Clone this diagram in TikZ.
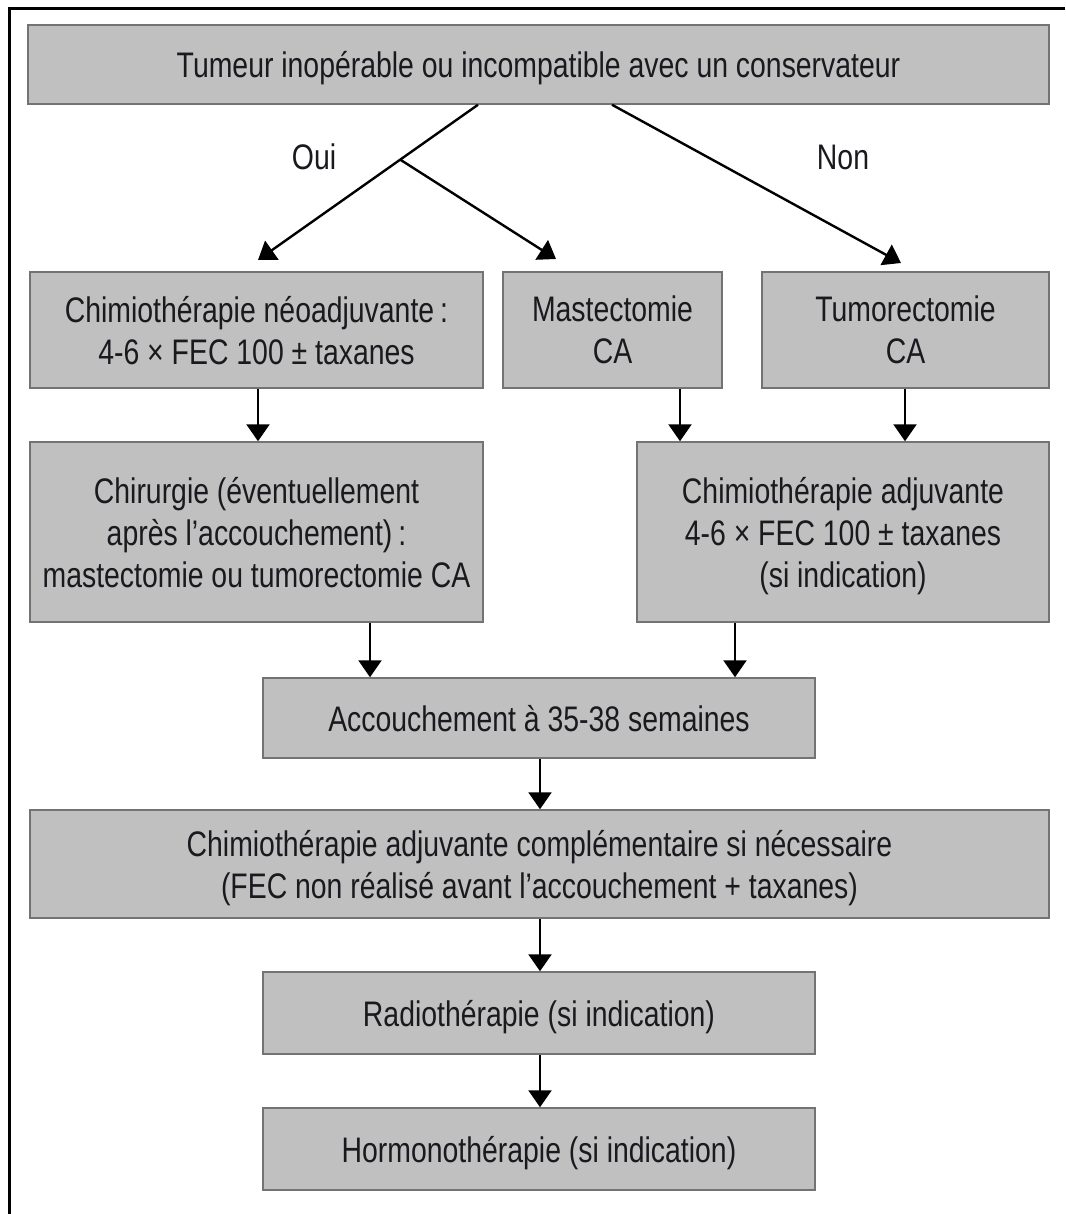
\documentclass[tikz,border=0pt]{standalone}
\usepackage{fontspec}
\setmainfont{Liberation Sans}[FakeStretch=0.8]
\usetikzlibrary{arrows.meta}
\definecolor{boxfill}{RGB}{192,192,192}
\definecolor{boxline}{RGB}{115,115,115}
\definecolor{txt}{RGB}{25,25,30}
\begin{document}
\begin{tikzpicture}[x=1pt,y=-1pt,
  every node/.style={font=\fontsize{35.5}{42}\selectfont, text=txt},
  box/.style={draw=boxline, line width=1.5pt, fill=boxfill, inner sep=0pt, align=center, rectangle, text depth=0pt},
  arr/.style={line width=2.4pt, -{Triangle[length=17pt,width=23pt]}}]
\useasboundingbox (0,0) rectangle (1065,1214);
\fill[white] (0,0) rectangle (1065,1214);
% frame
\draw[line width=3pt] (1065,9) -- (9,9) -- (9,1214);

\node[box, minimum width=1021pt, minimum height=79pt] (top) at (538.5,64.5) {Tumeur inopérable ou incompatible avec un conservateur};

\node[box, minimum width=453pt, minimum height=116pt] (a) at (256.5,330) {Chimiothérapie néoadjuvante\,:\\4-6 × FEC 100 ± taxanes};
\node[box, minimum width=219pt, minimum height=116pt] (b) at (612.5,330) {Mastectomie\\CA};
\node[box, minimum width=287pt, minimum height=116pt] (c) at (905.5,330) {Tumorectomie\\CA};

\node[box, minimum width=453pt, minimum height=180pt] (d) at (256.5,532) {Chirurgie (éventuellement\\après l’accouchement)\,:\\mastectomie ou tumorectomie CA};
\node[box, minimum width=412pt, minimum height=180pt] (e) at (843,532) {Chimiothérapie adjuvante\\4-6 × FEC 100 ± taxanes\\(si indication)};

\node[box, minimum width=552pt, minimum height=80pt] (f) at (539,718) {Accouchement à 35-38 semaines};
\node[box, minimum width=1019pt, minimum height=108pt] (g) at (539.5,864) {Chimiothérapie adjuvante complémentaire si nécessaire\\(FEC non réalisé avant l’accouchement + taxanes)};
\node[box, minimum width=552pt, minimum height=82pt] (h) at (539,1013) {Radiothérapie (si indication)};
\node[box, minimum width=552pt, minimum height=82pt] (i) at (539,1149) {Hormonothérapie (si indication)};

\node (oui) at (314,157) {Oui};
\node (non) at (843,157) {Non};

% coordinates
\coordinate (s1) at (478,0);
\coordinate (s2) at (612,0);
\coordinate (br) at (400,159.5);
\coordinate (t1) at (258,260);
\coordinate (t2) at (556,259);
\coordinate (t3) at (901,263);
\coordinate (xa) at (258,0);
\coordinate (xb) at (680,0);
\coordinate (xc) at (905,0);
\coordinate (xd) at (370,0);
\coordinate (xe) at (735,0);
\coordinate (xm) at (540,0);

\draw[arr] (top.south -| s1) -- (t1);
\draw[arr] (br) -- (t2);
\draw[arr] (top.south -| s2) -- (t3);

\draw[arr] (a.south -| xa) -- (d.north -| xa);
\draw[arr] (b.south -| xb) -- (e.north -| xb);
\draw[arr] (c.south -| xc) -- (e.north -| xc);
\draw[arr] (d.south -| xd) -- (f.north -| xd);
\draw[arr] (e.south -| xe) -- (f.north -| xe);
\draw[arr] (f.south -| xm) -- (g.north -| xm);
\draw[arr] (g.south -| xm) -- (h.north -| xm);
\draw[arr] (h.south -| xm) -- (i.north -| xm);
\end{tikzpicture}
\end{document}
